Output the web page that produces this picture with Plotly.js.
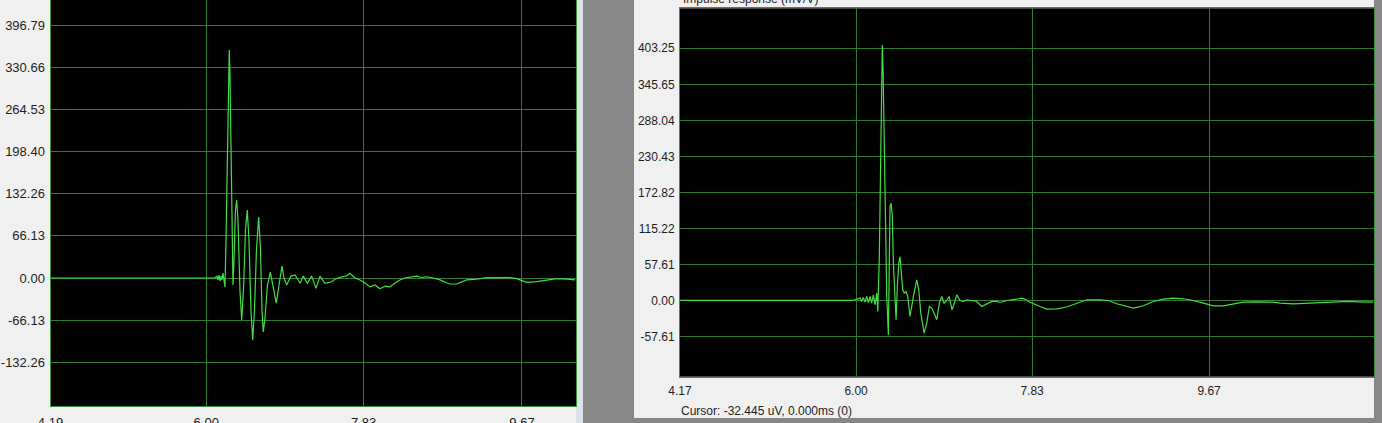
<!DOCTYPE html>
<html>
<head>
<meta charset="utf-8">
<script src="https://cdn.plot.ly/plotly-3.0.1.min.js"></script>
<style>
  html, body { margin: 0; padding: 0; background: #f0f0f0; }
  #chart { width: 1382px; height: 423px; }
</style>
</head>
<body>
<div id="chart"></div>
<script>
// ---- Left panel: impulse response (time in ms, amplitude) ----
const leftTime = [4.19, 6.102, 6.125, 6.137, 6.148, 6.160, 6.172, 6.183, 6.195, 6.207, 6.218, 6.230, 6.241, 6.253, 6.268, 6.276, 6.288, 6.300, 6.311, 6.323, 6.340, 6.354, 6.369, 6.392, 6.412, 6.433, 6.456, 6.477, 6.497, 6.520, 6.540, 6.561, 6.584, 6.610, 6.631, 6.648, 6.663, 6.683, 6.712, 6.745, 6.776, 6.814, 6.846, 6.881, 6.904, 6.935, 6.985, 7.032, 7.090, 7.128, 7.175, 7.226, 7.276, 7.322, 7.380, 7.458, 7.497, 7.555, 7.633, 7.671, 7.729, 7.787, 7.845, 7.903, 7.962, 8.020, 8.078, 8.136, 8.194, 8.252, 8.310, 8.368, 8.446, 8.504, 8.562, 8.636, 8.717, 8.795, 8.833, 8.911, 8.984, 9.027, 9.143, 9.260, 9.414, 9.530, 9.608, 9.666, 9.725, 9.841, 9.957, 10.073, 10.190, 10.286];
const leftAmp = [0, 0, 3.1, -3.1, 4.7, -4.7, 3.1, -3.1, 7.8, -6.3, -14.1, 59.7, 169.5, 279.4, 358, 318.7, 201, 75.4, -11, 28.3, 106.8, 122.5, 91.1, -18.8, -66, -18.8, 75.4, 106.8, 59.7, -50.3, -97.4, -50.3, 44, 95.8, 44, -50.3, -84.8, -62.8, -11, 9.4, -11, -39.3, -11, 18.8, 0, -11, 3, 4.7, -8.3, 3, -8.3, 3, -16.2, 3, -8.3, -5.8, -2, 1, 3.6, 7.4, 0, -3, -8, -14, -11, -17, -12.6, -14, -8, -3, 0, 1.6, 3, 0.8, 2, 0, -3, -7.4, -9.4, -9.4, -5.8, -3, -1.6, 0.5, 0.5, 0.5, -1, -4.2, -6.8, -5.8, -3, -1, -1.6, -3];
const leftXTicks = [4.19, 6.00, 7.83, 9.67];
const leftYTicks = [-132.26, -66.13, 0.00, 66.13, 132.26, 198.40, 264.53, 330.66, 396.79];

// ---- Right panel: impulse response (mV/V) ----
const rightTime = [4.17, 5.969, 6.042, 6.059, 6.076, 6.094, 6.111, 6.128, 6.146, 6.163, 6.180, 6.198, 6.215, 6.226, 6.242, 6.257, 6.263, 6.273, 6.281, 6.294, 6.305, 6.319, 6.336, 6.346, 6.353, 6.364, 6.377, 6.388, 6.405, 6.416, 6.429, 6.444, 6.457, 6.468, 6.485, 6.502, 6.520, 6.537, 6.561, 6.596, 6.631, 6.652, 6.673, 6.707, 6.735, 6.762, 6.787, 6.811, 6.839, 6.866, 6.891, 6.915, 6.943, 6.967, 6.998, 7.022, 7.047, 7.081, 7.115, 7.151, 7.203, 7.255, 7.307, 7.359, 7.411, 7.463, 7.497, 7.567, 7.635, 7.687, 7.722, 7.757, 7.791, 7.843, 7.913, 7.982, 8.086, 8.190, 8.294, 8.398, 8.536, 8.623, 8.710, 8.814, 8.883, 8.987, 9.090, 9.194, 9.298, 9.402, 9.506, 9.610, 9.714, 9.818, 9.922, 10.026, 10.165, 10.338, 10.407, 10.546, 10.719, 10.927, 11.101, 11.239, 11.378];
const rightAmp = [0, 0, 3.8, -1.6, 4.8, -2.6, 6.4, -3.2, 6.4, -4.2, 9.1, -6.9, 11.8, -17.6, 70.3, 272.8, 336.7, 408.6, 368.7, 219.6, 113, 6.4, -54.8, 59.8, 150.2, 155.6, 134.2, 59.8, -9.6, -30.8, 22.4, 59.8, 70.3, 49.1, 17.1, 11.8, 14.4, 6.4, -25.6, 6.4, 33.1, 17.1, -20.1, -52.1, -36.1, -9.6, -12.1, -20.1, -30.8, -4.2, 6.4, -4.2, 0, 6.4, -14.9, -4.2, 9.1, 0, -1.6, 1.1, 0, -1.6, -9.6, -5.3, -1.6, -1.6, -3.2, 0, 1.1, 2.7, 3.8, 2.2, -1.6, -5.3, -9.6, -13.7, -13.3, -10.5, -4.2, 1.1, 1.1, 0, -5.3, -9.6, -12.1, -8.5, -1.6, 2.2, 3.8, 2.7, 0, -4.2, -8.5, -8.5, -5.3, -2.6, -2.1, -2.6, -4.2, -5.3, -4.2, -2.6, -1.6, -2.1, -2.6];
const rightXTicks = [4.17, 6.00, 7.83, 9.67];
const rightYTicks = [-57.61, 0.00, 57.61, 115.22, 172.82, 230.43, 288.04, 345.65, 403.25];

const rightTitle = "Impulse response (mV/V)";
const cursorText = "Cursor: -32.445 uV, 0.000ms (0)";

const W = 1382, H = 423;
const px = v => v / W;
const py = v => 1 - v / H;

const gridColor = '#317a31';
const lineColor = '#44de44';
const frameColor = '#3a8f3a';
const textColor = '#1e1e1e';
const fontFam = '"Liberation Sans", Arial, sans-serif';

const fmt = a => a.map(v => v.toFixed(2));

const traces = [
  { x: leftTime, y: leftAmp, xaxis: 'x', yaxis: 'y', type: 'scatter', mode: 'lines',
    line: { color: lineColor, width: 1.2 }, hoverinfo: 'skip' },
  { x: rightTime, y: rightAmp, xaxis: 'x2', yaxis: 'y2', type: 'scatter', mode: 'lines',
    line: { color: lineColor, width: 1.2 }, hoverinfo: 'skip' }
];

function xAx(domain, range, ticks, anchor, size, standoff, mirror) {
  return { domain, range, anchor, tickmode: 'array', tickvals: ticks, ticktext: fmt(ticks),
    showgrid: true, gridcolor: gridColor, gridwidth: 1, zeroline: false,
    showline: true, linecolor: frameColor, linewidth: 1, mirror,
    ticks: '', ticklabelstandoff: standoff,
    tickfont: { family: fontFam, size, color: textColor }, fixedrange: true };
}
function yAx(domain, range, ticks, anchor, size, standoff) {
  return { domain, range, anchor, tickmode: 'array', tickvals: ticks, ticktext: fmt(ticks),
    showgrid: true, gridcolor: gridColor, gridwidth: 1, zeroline: false,
    showline: true, linecolor: frameColor, linewidth: 1, mirror: true,
    ticks: '', ticklabelstandoff: standoff,
    tickfont: { family: fontFam, size, color: textColor }, fixedrange: true };
}

const layout = {
  width: W, height: H,
  margin: { l: 0, r: 0, t: 0, b: 0, pad: 0 },
  paper_bgcolor: '#f0f0f0',
  plot_bgcolor: '#000000',
  showlegend: false,
  xaxis: xAx([px(50.5), px(576)], [4.19, 10.298], leftXTicks, 'y', 13, 4, false),
  yaxis: yAx([py(406), 1], [-200.9, 436.4], leftYTicks, 'x', 13, 2),
  xaxis2: xAx([px(680), px(1374)], [4.17, 11.384], rightXTicks, 'y2', 12, 3, true),
  yaxis2: yAx([py(376.7), py(8.3)], [-121.9, 467.2], rightYTicks, 'x2', 12, 2),
  shapes: [
    { type: 'rect', xref: 'paper', yref: 'paper', x0: px(576), x1: px(583), y0: 0, y1: 1,
      fillcolor: '#dde1e9', line: { width: 0 }, layer: 'below' },
    { type: 'rect', xref: 'paper', yref: 'paper', x0: px(583), x1: px(634), y0: 0, y1: 1,
      fillcolor: '#878787', line: { width: 0 }, layer: 'below' },
    { type: 'rect', xref: 'paper', yref: 'paper', x0: px(1374), x1: 1, y0: 0, y1: 1,
      fillcolor: '#878787', line: { width: 0 }, layer: 'below' },
    { type: 'rect', xref: 'paper', yref: 'paper', x0: px(634), x1: 1, y0: 0, y1: py(418),
      fillcolor: '#878787', line: { width: 0 }, layer: 'below' }
  ],
  annotations: [
    { text: rightTitle, xref: 'paper', yref: 'paper', x: px(681), y: py(-1),
      xanchor: 'left', yanchor: 'middle', showarrow: false,
      font: { family: fontFam, size: 12, color: textColor } },
    { text: cursorText, xref: 'paper', yref: 'paper', x: px(679), y: py(411),
      xanchor: 'left', yanchor: 'middle', showarrow: false,
      font: { family: fontFam, size: 12, color: textColor } }
  ]
};

Plotly.newPlot('chart', traces, layout, { staticPlot: true, displayModeBar: false });
</script>
</body>
</html>
